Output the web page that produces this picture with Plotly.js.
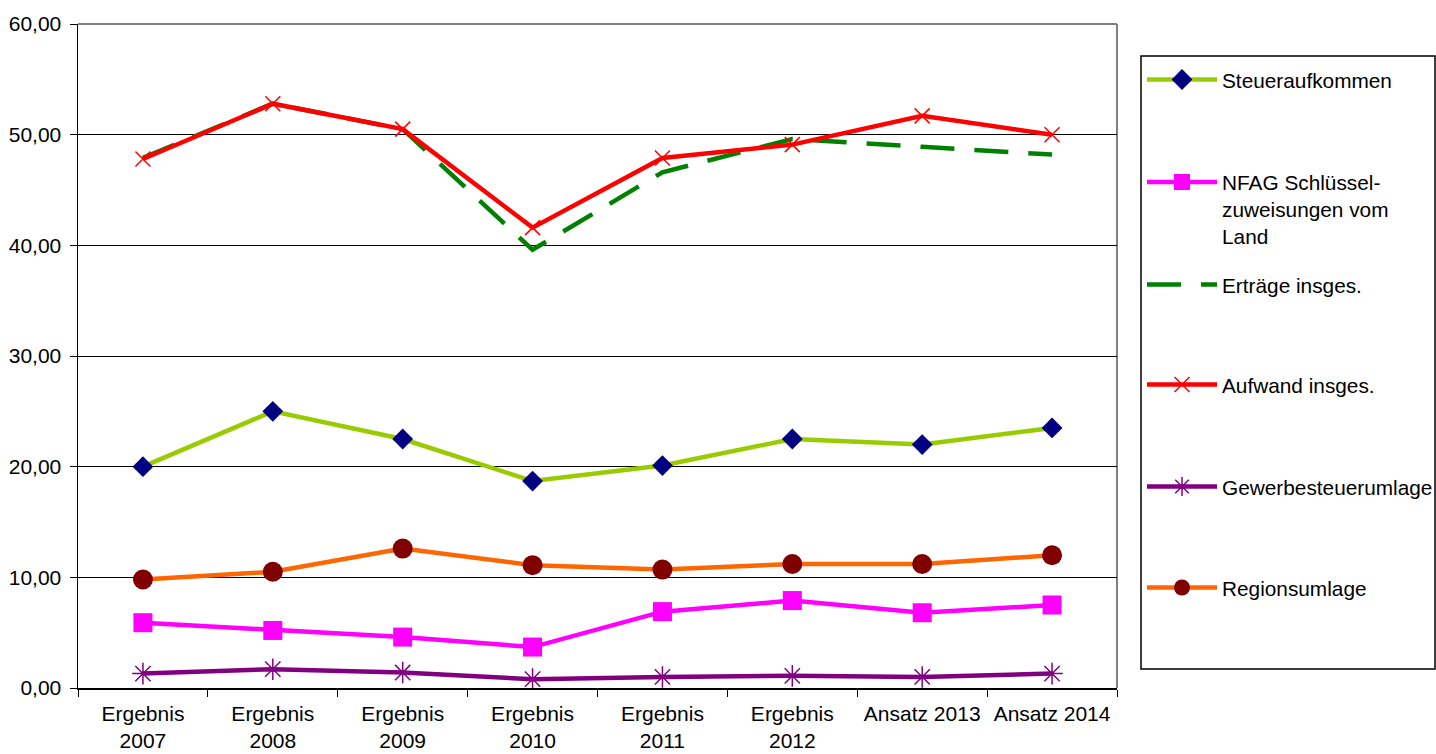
<!DOCTYPE html>
<html>
<head>
<meta charset="utf-8">
<script src="https://cdn.plot.ly/plotly-3.0.1.min.js"></script>
<style>
html,body{margin:0;padding:0;background:#fff;}
#chart{width:1436px;height:754px;}
</style>
</head>
<body>
<div id="chart"></div>
<script>
const categories = ["Ergebnis<br>2007","Ergebnis<br>2008","Ergebnis<br>2009","Ergebnis<br>2010","Ergebnis<br>2011","Ergebnis<br>2012","Ansatz 2013","Ansatz 2014"];
const steueraufkommen = [20.0, 25.0, 22.5, 18.7, 20.1, 22.5, 22.0, 23.5];
const nfagSchluesselzuweisungen = [5.9, 5.2, 4.6, 3.7, 6.9, 7.9, 6.8, 7.5];
const ertraegeInsges = [47.9, 52.8, 50.5, 39.6, 46.6, 49.6, 48.9, 48.2];
const aufwandInsges = [47.8, 52.8, 50.5, 41.6, 47.9, 49.1, 51.7, 50.0];
const gewerbesteuerumlage = [1.3, 1.7, 1.4, 0.8, 1.0, 1.1, 1.0, 1.3];
const regionsumlage = [9.8, 10.5, 12.6, 11.1, 10.7, 11.2, 11.2, 12.0];
const seriesNames = ["Steueraufkommen","NFAG Schlüssel-<br>zuweisungen vom<br>Land","Erträge insges.","Aufwand insges.","Gewerbesteuerumlage","Regionsumlage"];

const FONT = "Liberation Sans, Arial, sans-serif";
const W = 1436, H = 754;
const L = 78, R = 1117, T = 24, B = 688;
const px2x = p => (p - L) / (R - L);
const py2y = p => (B - p) / (B - T);

const traces = [
  {y: steueraufkommen, name: seriesNames[0], legend: "legend",
   line: {color: "#99CC00", width: 4.5},
   marker: {symbol: "diamond", size: 16, color: "#000080"}},
  {y: nfagSchluesselzuweisungen, name: seriesNames[1], legend: "legend2",
   line: {color: "#FF00FF", width: 4.5},
   marker: {symbol: "square", size: 19, color: "#FF00FF"}},
  {y: ertraegeInsges, name: seriesNames[2], legend: "legend3",
   line: {color: "#008000", width: 4.5, dash: "34px,20px"},
   mode: "lines"},
  {y: aufwandInsges, name: seriesNames[3], legend: "legend4",
   line: {color: "#FF0000", width: 4.5},
   marker: {symbol: "x-thin", size: 15, color: "#FF0000", line: {color: "#FF0000", width: 1.5}}},
  {y: gewerbesteuerumlage, name: seriesNames[4], legend: "legend5",
   line: {color: "#800080", width: 4.5},
   marker: {symbol: "asterisk", size: 18, color: "#800080", line: {color: "#800080", width: 1.5}}},
  {y: regionsumlage, name: seriesNames[5], legend: "legend6",
   line: {color: "#FF6600", width: 4.5},
   marker: {symbol: "circle", size: 20, color: "#800000"}}
].map(t => Object.assign({type: "scatter", mode: "lines+markers", x: categories, cliponaxis: false}, t));

function mkLegend(py, anchor) {
  return {
    xref: "container", yref: "container",
    x: 1142 / W, xanchor: "left",
    y: 1 - py / H, yanchor: anchor || "middle",
    bgcolor: "rgba(0,0,0,0)", borderwidth: 0,
    font: {family: FONT, size: 20.8, color: "#000"},
    itemwidth: 70, valign: "top", itemclick: false, itemdoubleclick: false
  };
}

const layout = {
  width: W, height: H,
  margin: {l: L, r: W - R, t: T, b: H - B, pad: 0, autoexpand: false},
  paper_bgcolor: "#fff", plot_bgcolor: "#fff",
  font: {family: FONT, size: 21, color: "#000"},
  showlegend: true,
  legend: mkLegend(80),
  legend2: mkLegend(162, "top"),
  legend3: mkLegend(285),
  legend4: mkLegend(385),
  legend5: mkLegend(487),
  legend6: mkLegend(588),
  xaxis: {
    type: "category", range: [-0.5, 7.5], fixedrange: true,
    showgrid: false, zeroline: false,
    showline: true, linecolor: "#000", linewidth: 1.5,
    ticks: "outside", tickson: "boundaries", ticklen: 7, tickcolor: "#000", tickwidth: 1,
    ticklabelstandoff: 6,
    tickfont: {family: FONT, size: 21, color: "#000"}
  },
  yaxis: {
    range: [0, 60], dtick: 10, tick0: 0, fixedrange: true,
    tickformat: ".2f",
    showgrid: true, gridcolor: "#000", gridwidth: 1,
    zeroline: false,
    showline: true, linecolor: "#000", linewidth: 1.5,
    ticks: "outside", ticklen: 7, tickcolor: "#000", tickwidth: 1,
    ticklabelstandoff: 4,
    tickfont: {family: FONT, size: 21, color: "#000"}
  },
  separators: ",.",
  shapes: [
    {type: "line", xref: "paper", yref: "paper", x0: 0, x1: 1, y0: 1, y1: 1, line: {color: "#808080", width: 2}, layer: "above"},
    {type: "line", xref: "paper", yref: "paper", x0: 1, x1: 1, y0: 0, y1: 1, line: {color: "#808080", width: 2}, layer: "below"},
    {type: "rect", xref: "paper", yref: "paper", x0: px2x(1141), x1: px2x(1435), y0: py2y(669), y1: py2y(56), line: {color: "#000", width: 1.5}, fillcolor: "rgba(0,0,0,0)"}
  ]
};

Plotly.newPlot("chart", traces, layout, {displayModeBar: false, staticPlot: true});
</script>
</body>
</html>
